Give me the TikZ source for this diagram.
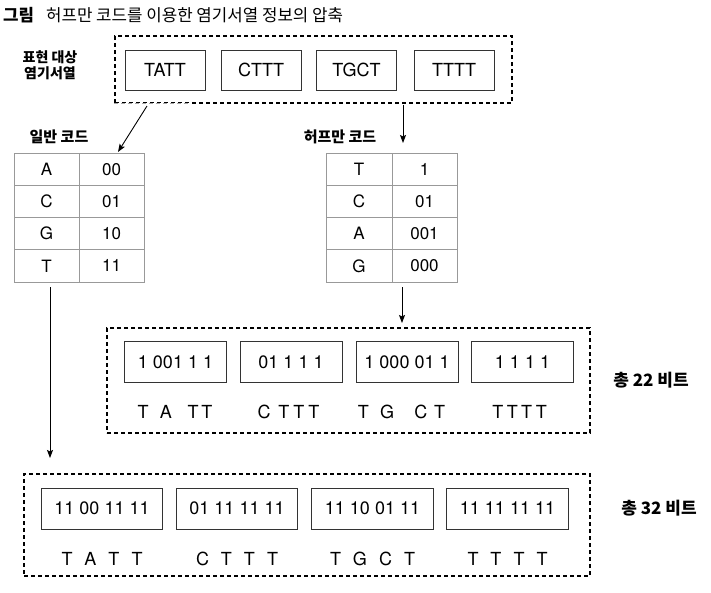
\documentclass[tikz,border=0pt]{standalone}
\usepackage{fontspec}
\setmainfont{TeX Gyre Heros}
\newfontfamily\kr{Noto Sans CJK KR}
\IfFontExistsTF{Noto Sans CJK KR Black}
  {\newfontfamily\krh{Noto Sans CJK KR Black}}
  {\newcommand\krh{\kr\bfseries}}
\usetikzlibrary{arrows.meta}
\newcommand\lsp{\hspace{12pt}}
\begin{document}
\begin{tikzpicture}[x=1pt,y=-1pt,
  dbox/.style={draw=black, line width=1.1pt, dash pattern=on 4pt off 3pt, rectangle, inner sep=0pt},
  cbox/.style={draw=black!80, line width=0.9pt, rectangle, inner sep=0pt, font=\fontsize{18}{20}\selectfont},
  topbox/.style={cbox, minimum width=80pt, minimum height=40pt},
  midbox/.style={cbox, minimum width=102pt, minimum height=41pt},
  botbox/.style={cbox, minimum width=121.5pt, minimum height=41pt},
  seq/.style={inner sep=0pt, font=\fontsize{18}{20}\selectfont},
  cell/.style={draw=black!40, line width=0.7pt, rectangle, minimum width=65pt, minimum height=32.25pt, inner sep=0pt, font=\fontsize{17}{20}\selectfont},
  arr/.style={-{Stealth[length=8pt,width=6pt,inset=1.5pt]}, line width=0.9pt},
  krlab/.style={inner sep=0pt, align=center, font=\krh\fontsize{15}{17}\selectfont},
  total/.style={inner sep=0pt, font=\krh\fontsize{17}{19}\selectfont},
]
\useasboundingbox (0,0) rectangle (711,592);

% title
\node[anchor=west, inner sep=0pt, font=\kr\fontsize{16.8}{19}\selectfont] (title) at (3,15)
  {{\krh 그림}\hspace{12pt}허프만 코드를 이용한 염기서열 정보의 압축};

% top sequence box
\node[dbox, minimum width=397pt, minimum height=67pt] (top) at (313.5,69.5) {};
\draw[white, line width=2pt] (top.south west) -- ++(75,0);
\draw[black!35, line width=1.1pt, dash pattern=on 4pt off 3pt] (top.south west) -- ++(75,0);
\node[krlab, font=\krh\fontsize{14}{16}\selectfont] (toplab) at (50,65) {표현 대상\\염기서열};
\node[topbox] (s1) at (165,70) {TATT};
\node[topbox] (s2) at (261,70) {CTTT};
\node[topbox] (s3) at (356.5,70) {TGCT};
\node[topbox] (s4) at (454,70) {TTTT};

% code labels
\node[krlab] (normlab) at (59,137) {일반 코드};
\node[krlab] (hufflab) at (340,137) {허프만 코드};

% left table
\node[cell] (la) at (46.5,169.1) {A};  \node[cell] (lac) at (111.5,169.1) {00};
\node[cell] (lc) at (46.5,201.4) {C};  \node[cell] (lcc) at (111.5,201.4) {01};
\node[cell] (lg) at (46.5,233.6) {G};  \node[cell] (lgc) at (111.5,233.6) {10};
\node[cell] (lt) at (46.5,265.9) {T};  \node[cell] (ltc) at (111.5,265.9) {11};

% right table
\node[cell, minimum width=66pt] (rt) at (359,169.1) {T};  \node[cell] (rtc) at (424.5,169.1) {1};
\node[cell, minimum width=66pt] (rc) at (359,201.4) {C};  \node[cell] (rcc) at (424.5,201.4) {01};
\node[cell, minimum width=66pt] (ra) at (359,233.6) {A};  \node[cell] (rac) at (424.5,233.6) {001};
\node[cell, minimum width=66pt] (rg) at (359,265.9) {G};  \node[cell] (rgc) at (424.5,265.9) {000};

% huffman-coded box
\node[dbox, minimum width=483pt, minimum height=105pt] (mid) at (348.5,380.5) {};
\node[midbox] (m1) at (175.5,362) {1 001 1 1};
\node[midbox] (m2) at (291,362) {01 1 1 1};
\node[midbox] (m3) at (407,362) {1 000 01 1};
\node[midbox] (m4) at (522.5,362) {1 1 1 1};
\node[seq] (ml1) at (175,411.5) {T\hspace{11.5pt}A\hspace{15.5pt}T\hspace{3pt}T};
\node[seq] (ml2) at (288.5,411.5) {C\hspace{8pt}T\hspace{4pt}T\hspace{4pt}T};
\node[seq] (ml3) at (401.5,411.5) {T\hspace{11.5pt}G\hspace{20pt}C\hspace{7pt}T};
\node[seq] (ml4) at (519.5,411.5) {T\hspace{3.5pt}T\hspace{3.5pt}T\hspace{3.5pt}T};
\node[total] (tot22) at (651,380) {총 22 비트};

% normal-coded box
\node[dbox, minimum width=566pt, minimum height=102pt] (bot) at (307,525) {};
\node[botbox] (b1) at (102,508.5) {11 00 11 11};
\node[botbox] (b2) at (237,508.5) {01 11 11 11};
\node[botbox] (b3) at (372.5,508.5) {11 10 01 11};
\node[botbox] (b4) at (507.5,508.5) {11 11 11 11};
\node[seq] (bl1) at (102,559) {T\lsp A\lsp T\lsp T};
\node[seq] (bl2) at (237,559) {C\lsp T\lsp T\lsp T};
\node[seq] (bl3) at (372.5,559) {T\lsp G\lsp C\lsp T};
\node[seq] (bl4) at (507.5,559) {T\lsp T\lsp T\lsp T};
\node[total] (tot32) at (659,508) {총 32 비트};

% connectors
\coordinate (a1s) at (147,106);
\coordinate (a1e) at (118,152);
\coordinate (a2s) at (403,105);
\coordinate (a2e) at (403,143);
\coordinate (a3s) at (50,287);
\coordinate (a3e) at (50,458);
\coordinate (a4s) at (402,287);
\coordinate (a4e) at (402,323);
\draw[arr] (a1s) -- (a1e);
\draw[arr] (a2s) -- (a2e);
\draw[arr] (a3s) -- (a3e);
\draw[arr] (a4s) -- (a4e);
\end{tikzpicture}
\end{document}
